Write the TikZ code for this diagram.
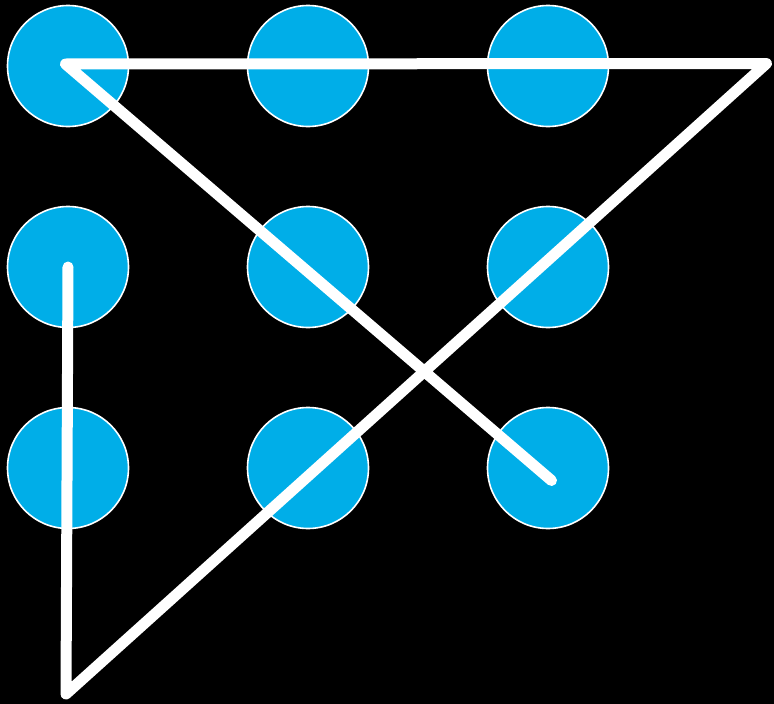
\documentclass[tikz,border=0pt]{standalone}
\definecolor{dotblue}{RGB}{0,174,232}
\tikzset{
  dot/.style={circle,fill=dotblue,draw=white,line width=1.6pt,minimum size=121pt,inner sep=0pt},
  stroke/.style={white,line width=11pt,line cap=round,line join=round}
}
\begin{document}
\begin{tikzpicture}[x=1pt,y=-1pt]
\fill[black] (0,0) rectangle (774,704);
\useasboundingbox (0,0) rectangle (774,704);
\node[dot] (c11) at (68,66) {};
\node[dot] (c12) at (308,66) {};
\node[dot] (c13) at (548,66) {};
\node[dot] (c21) at (68,267) {};
\node[dot] (c22) at (308,267) {};
\node[dot] (c23) at (548,267) {};
\node[dot] (c31) at (68,468) {};
\node[dot] (c32) at (308,468) {};
\node[dot] (c33) at (548,468) {};
\coordinate (p0) at (68,267);
\coordinate (p1) at (66,694);
\coordinate (p2) at (766.5,63.5);
\coordinate (p3) at (65.5,64);
\coordinate (p4) at (551.5,480.5);
\draw[stroke] (p0) -- (p1) -- (p2) -- (p3) -- (p4);
\end{tikzpicture}
\end{document}
